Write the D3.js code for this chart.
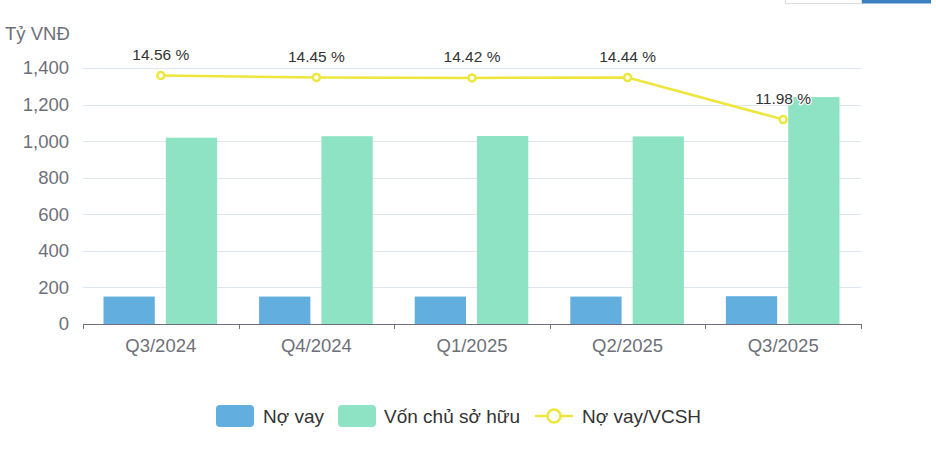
<!DOCTYPE html>
<html><head><meta charset="utf-8">
<script src="https://cdn.jsdelivr.net/npm/d3@7"></script>
<style>html,body{margin:0;padding:0;background:#fff;}svg{display:block;font-family:"Liberation Sans",Arial,Helvetica,sans-serif;}</style>
</head><body>
<svg id="c" width="936" height="456"></svg>
<script>
const categories = ["Q3/2024","Q4/2024","Q1/2025","Q2/2025","Q3/2025"];
const debt = [150, 150, 150, 150, 152];
const equity = [1019, 1027, 1028, 1026, 1241];
const ratio = [14.56, 14.45, 14.42, 14.44, 11.98];
const yTicks = [0, 200, 400, 600, 800, 1000, 1200, 1400];
const seriesNames = ["Nợ vay", "Vốn chủ sở hữu", "Nợ vay/VCSH"];
const colors = {debt:"#62aedf", equity:"#8de3c4", ratio:"#ede63c"};

const svg = d3.select("#c");
const L = 83, R = 861, T = 68, B = 324;
const x = d3.scaleBand().domain(categories).range([L, R]).paddingInner(0).paddingOuter(0);
const y = d3.scaleLinear().domain([0, 1400]).range([B, T]);
const y2 = d3.scaleLinear().domain([0, 15]).range([B, T]);
const bw = x.bandwidth();
const inner = d3.scaleBand().domain(["debt","equity"]).range([20.5, bw - 21.5]).paddingInner(0.1774).paddingOuter(0);

// top-right UI fragments
svg.append("rect").attr("x",785.5).attr("y",-5).attr("width",76).attr("height",8.5).attr("fill","#fff").attr("stroke","#dcdcdc");
svg.append("rect").attr("x",862).attr("y",0).attr("width",69).attr("height",3.5).attr("fill","#3a80c1");

// grid
svg.append("g").selectAll("line").data(yTicks.filter(d=>d>0)).join("line")
  .attr("x1",L).attr("x2",R).attr("y1",d=>Math.round(y(d))+0.5).attr("y2",d=>Math.round(y(d))+0.5)
  .attr("stroke","#e0e6f1").attr("stroke-width",1);

// y labels
svg.append("g").selectAll("text").data(yTicks).join("text")
  .attr("x",69).attr("y",d=>y(d)).attr("dy","0.35em").attr("text-anchor","end")
  .attr("fill","#6e7079").attr("font-size",18.5).text(d=>d3.format(",")(d));

svg.append("text").attr("x",5).attr("y",40).attr("fill","#6e7079").attr("font-size",18.5).text("Tỷ VNĐ");

// bars
const g = svg.append("g");
g.selectAll("rect.debt").data(categories).join("rect").attr("class","debt")
  .attr("x",(d)=>x(d)+inner("debt")).attr("width",inner.bandwidth())
  .attr("y",(d,i)=>y(debt[i])).attr("height",(d,i)=>B-y(debt[i])).attr("fill",colors.debt);
g.selectAll("rect.eq").data(categories).join("rect").attr("class","eq")
  .attr("x",(d)=>x(d)+inner("equity")).attr("width",inner.bandwidth())
  .attr("y",(d,i)=>y(equity[i])).attr("height",(d,i)=>B-y(equity[i])).attr("fill",colors.equity);

// x axis
svg.append("line").attr("x1",L).attr("x2",R).attr("y1",B+0.5).attr("y2",B+0.5).attr("stroke","#6e7079");
const bounds = categories.map(c=>x(c)).concat([R]);
svg.append("g").selectAll("line").data(bounds).join("line")
  .attr("x1",d=>Math.round(d)+0.5).attr("x2",d=>Math.round(d)+0.5).attr("y1",B).attr("y2",B+5)
  .attr("stroke","#6e7079");
svg.append("g").selectAll("text").data(categories).join("text")
  .attr("x",d=>x(d)+bw/2).attr("y",352).attr("text-anchor","middle")
  .attr("fill","#6e7079").attr("font-size",18.5).text(d=>d);

// line
const cx = d=>x(d)+bw/2;
const line = d3.line().x((d,i)=>cx(categories[i])).y(d=>y2(d));
svg.append("path").datum(ratio).attr("d",line).attr("fill","none").attr("stroke",colors.ratio).attr("stroke-width",2.5);
svg.append("g").selectAll("circle").data(ratio).join("circle")
  .attr("cx",(d,i)=>cx(categories[i])).attr("cy",d=>y2(d)).attr("r",3.5)
  .attr("fill","#fff").attr("stroke",colors.ratio).attr("stroke-width",2.5);
svg.append("g").selectAll("text").data(ratio).join("text")
  .attr("x",(d,i)=>cx(categories[i])).attr("y",d=>y2(d)-15.5).attr("text-anchor","middle")
  .attr("font-size",15.5).attr("fill","#333").attr("stroke","#fff").attr("stroke-width",2.5)
  .attr("paint-order","stroke").attr("stroke-linejoin","round")
  .text(d=>d3.format(".2f")(d)+" %");

// legend
const lg = svg.append("g");
const ly = 416;
lg.append("rect").attr("x",216).attr("y",405).attr("width",38).attr("height",22).attr("rx",4).attr("fill",colors.debt);
lg.append("text").attr("x",263).attr("y",ly).attr("dy","0.35em").attr("font-size",19).attr("fill","#333").text(seriesNames[0]);
lg.append("rect").attr("x",338).attr("y",405).attr("width",38).attr("height",22).attr("rx",4).attr("fill",colors.equity);
lg.append("text").attr("x",384).attr("y",ly).attr("dy","0.35em").attr("font-size",19).attr("fill","#333").text(seriesNames[1]);
lg.append("line").attr("x1",535).attr("x2",573).attr("y1",ly).attr("y2",ly).attr("stroke",colors.ratio).attr("stroke-width",2.5);
lg.append("circle").attr("cx",554).attr("cy",ly).attr("r",6.5).attr("fill","#fff").attr("stroke",colors.ratio).attr("stroke-width",2.5);
lg.append("text").attr("x",582).attr("y",ly).attr("dy","0.35em").attr("font-size",19).attr("fill","#333").text(seriesNames[2]);
</script>
</body></html>
